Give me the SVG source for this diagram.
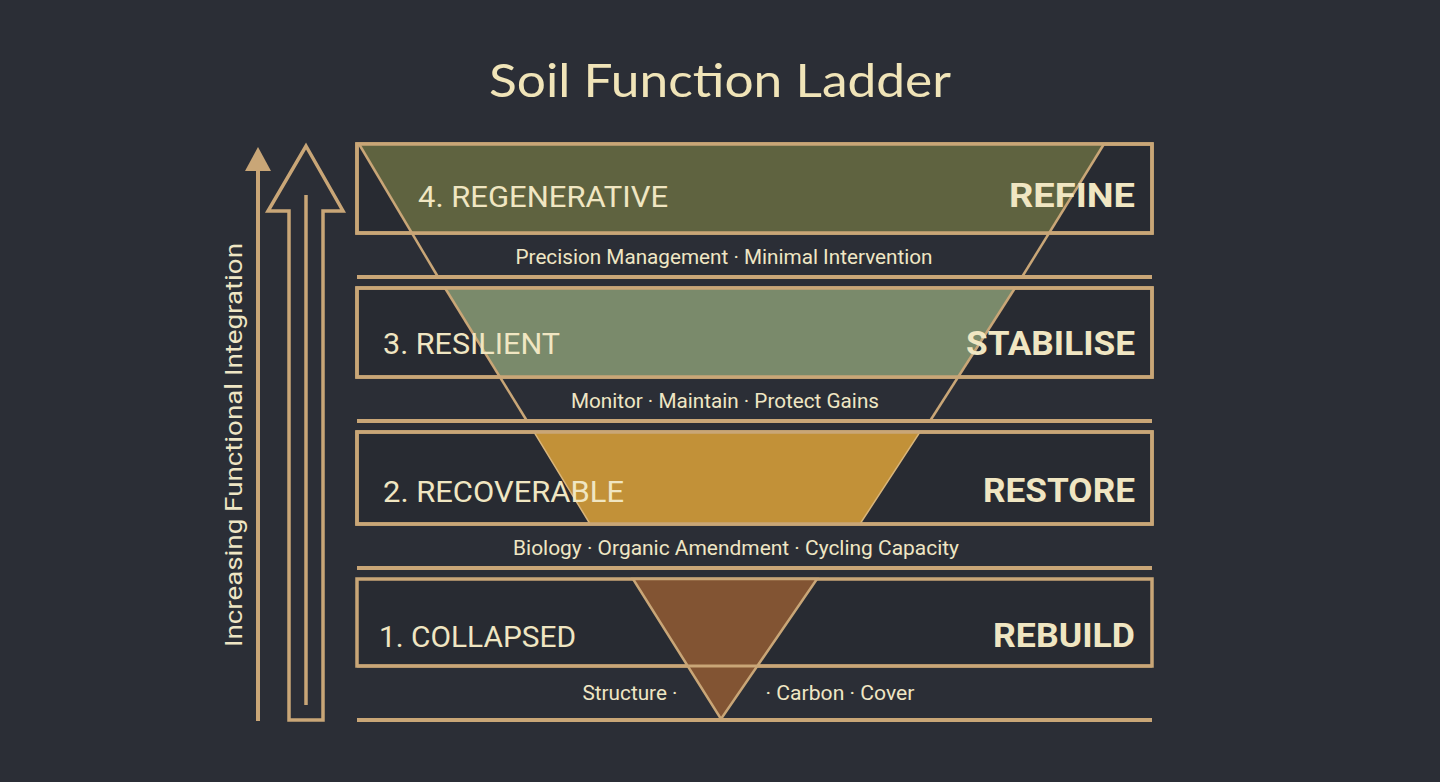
<svg xmlns="http://www.w3.org/2000/svg" width="1440" height="782" viewBox="0 0 1440 782">
<defs>
<style>
.gold{stroke:#c9a677;fill:none}
.box{fill:#282b32;stroke:#c9a677;stroke-width:3.5}
.sep{stroke:#c9a677;stroke-width:4}
.slant{stroke:#c9a677;stroke-width:2.5;fill:none}
.lvl{font-family:Roboto,"Liberation Sans",sans-serif;font-size:30px;fill:#f0e6c2}
.act{font-family:Roboto,"Liberation Sans",sans-serif;font-size:33px;font-weight:bold;fill:#f0e6c2;text-anchor:end}
.sub{font-family:Roboto,"Liberation Sans",sans-serif;font-size:20.5px;fill:#efe6c4;text-anchor:middle}
.title{font-family:Lato,"Noto Sans",sans-serif;font-size:46px;fill:#f0e4b8;text-anchor:middle}
</style>
<clipPath id="c1"><rect x="357" y="144" width="795" height="89"/></clipPath>
<clipPath id="c2"><rect x="357" y="288" width="795" height="89"/></clipPath>
<clipPath id="c3"><rect x="357" y="432" width="795" height="92"/></clipPath>
</defs>
<rect width="1440" height="782" fill="#2b2e36"/>
<text class="title" x="720" y="97" textLength="462" lengthAdjust="spacingAndGlyphs">Soil Function Ladder</text>

<g id="connectors">
<line class="gold" x1="258" y1="168" x2="258" y2="721" stroke-width="4"/>
<polygon points="258,147 271,171 245,171" fill="#c9a677"/>
<path class="gold" stroke-width="3.5" d="M306,146 L343,211 L323,211 L323,720 L289,720 L289,211 L268,211 Z"/>
<line class="gold" x1="306" y1="195" x2="306" y2="705" stroke-width="3.5"/>
</g>
<text x="0" y="0" transform="translate(242,445) rotate(-90)" text-anchor="middle" font-family="Roboto,'Liberation Sans',sans-serif" font-size="24" fill="#efe6c4" textLength="404" lengthAdjust="spacingAndGlyphs">Increasing Functional Integration</text>

<g id="level4">
<rect class="box" x="357" y="144" width="795" height="89"/>
<polygon clip-path="url(#c1)" points="360,144 1104,144 1050,233 412,233" fill="#5f6340"/>
<rect x="357" y="144" width="795" height="89" fill="none" stroke="#c9a677" stroke-width="3.5"/>
<line class="slant" x1="359" y1="144" x2="438" y2="277"/>
<line class="slant" x1="1104" y1="144" x2="1022" y2="277"/>
<line class="sep" x1="357" y1="277" x2="1152" y2="277"/>
<text class="lvl" x="418" y="207" textLength="250" lengthAdjust="spacingAndGlyphs">4. REGENERATIVE</text>
<text class="act" x="1135" y="207" textLength="126" lengthAdjust="spacingAndGlyphs">REFINE</text>
<text class="sub" x="724" y="264" textLength="417" lengthAdjust="spacingAndGlyphs">Precision Management · Minimal Intervention</text>
</g>

<g id="level3">
<rect class="box" x="357" y="288" width="795" height="89"/>
<polygon clip-path="url(#c2)" points="445,288 1015,288 958,377 500,377" fill="#7a8a6b"/>
<rect x="357" y="288" width="795" height="89" fill="none" stroke="#c9a677" stroke-width="3.5"/>
<line class="slant" x1="445" y1="288" x2="527" y2="421"/>
<line class="slant" x1="1015" y1="288" x2="930" y2="421"/>
<line class="sep" x1="357" y1="421" x2="1152" y2="421"/>
<text class="lvl" x="383" y="354" textLength="177" lengthAdjust="spacingAndGlyphs">3. RESILIENT</text>
<text class="act" x="1135" y="355" textLength="169" lengthAdjust="spacingAndGlyphs">STABILISE</text>
<text class="sub" x="725" y="408" textLength="308" lengthAdjust="spacingAndGlyphs">Monitor · Maintain · Protect Gains</text>
</g>

<g id="level2">
<rect class="box" x="357" y="432" width="795" height="92"/>
<polygon clip-path="url(#c3)" points="534,432 920,432 860,524 590,524" fill="#c29138" stroke="#d9b57a" stroke-width="1.5"/>
<rect x="357" y="432" width="795" height="92" fill="none" stroke="#c9a677" stroke-width="3.5"/>
<line class="sep" x1="357" y1="568" x2="1152" y2="568"/>
<text class="lvl" x="383" y="502" textLength="241" lengthAdjust="spacingAndGlyphs">2. RECOVERABLE</text>
<text class="act" x="1135" y="502" textLength="152" lengthAdjust="spacingAndGlyphs">RESTORE</text>
<text class="sub" x="736" y="555" textLength="446" lengthAdjust="spacingAndGlyphs">Biology · Organic Amendment · Cycling Capacity</text>
</g>

<g id="level1">
<rect class="box" x="357" y="579" width="795" height="87"/>
<polygon points="633,579 817,579 721,719" fill="#825433" stroke="#c9a677" stroke-width="2.5"/>
<line x1="357" y1="666" x2="1152" y2="666" stroke="#c9a677" stroke-width="3"/>
<line class="sep" x1="357" y1="720" x2="1152" y2="720"/>
<text class="lvl" x="379" y="647" textLength="197" lengthAdjust="spacingAndGlyphs">1. COLLAPSED</text>
<text class="act" x="1135" y="647" textLength="142" lengthAdjust="spacingAndGlyphs">REBUILD</text>
<text class="sub" x="630" y="700" textLength="95" lengthAdjust="spacingAndGlyphs">Structure ·</text>
<text class="sub" x="840" y="700" textLength="149" lengthAdjust="spacingAndGlyphs">· Carbon · Cover</text>
</g>
</svg>
